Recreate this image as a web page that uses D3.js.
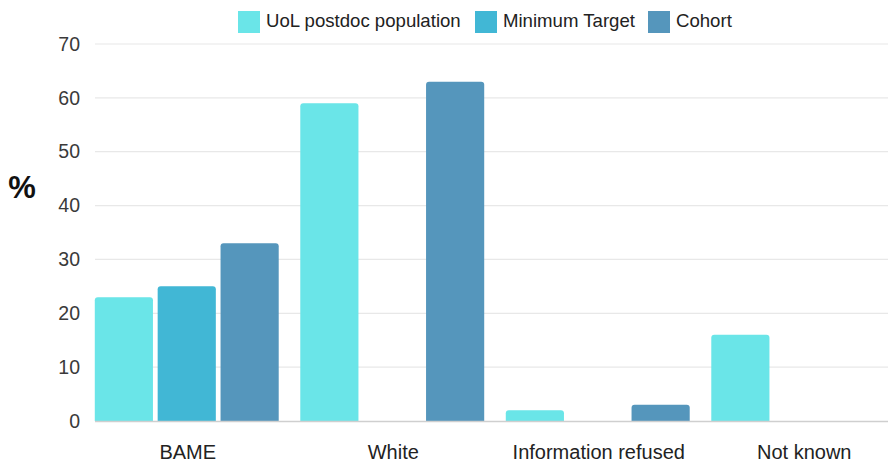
<!DOCTYPE html>
<html>
<head>
<meta charset="utf-8">
<script src="https://cdn.jsdelivr.net/npm/d3@7"></script>
<style>
  html, body { margin: 0; padding: 0; background: #fff; }
  svg { display: block; font-family: "Liberation Sans", Arial, sans-serif; }
</style>
</head>
<body>
<svg id="chart" width="888" height="464"></svg>
<script>
// Ethnicity breakdown (%)
const categories = ["BAME", "White", "Information refused", "Not known"];
const seriesNames = ["UoL postdoc population", "Minimum Target", "Cohort"];
const uolPostdoc = [23, 59, 2, 16];
const minimumTarget = [25, 0, 0, 0];
const cohort = [33, 63, 3, 0];
const yTicks = [0, 10, 20, 30, 40, 50, 60, 70];

const seriesValues = [uolPostdoc, minimumTarget, cohort];
const colors = ["#6ae5e8", "#41b7d5", "#5596bc"];

const svg = d3.select("#chart");

const x0 = d3.scaleBand()
  .domain(categories)
  .range([84, 906])
  .paddingInner(0.105)
  .paddingOuter(0.0525);

const x1 = d3.scaleBand()
  .domain(seriesNames)
  .range([0, x0.bandwidth()])
  .paddingInner(0.075)
  .paddingOuter(0);

const y = d3.scaleLinear().domain([0, 70]).range([421, 44]);

// gridlines
svg.append("g")
  .selectAll("line")
  .data(yTicks.filter(d => d > 0))
  .join("line")
  .attr("x1", 95).attr("x2", 888)
  .attr("y1", d => y(d)).attr("y2", d => y(d))
  .attr("stroke", "#e8e8e8")
  .attr("stroke-width", 1.2);

// y tick labels
const yAxis = d3.axisLeft(y).tickValues(yTicks).tickSize(0).tickPadding(0);
const yg = svg.append("g").attr("transform", "translate(80,0)").call(yAxis);
yg.select(".domain").remove();
yg.selectAll("text")
  .attr("font-size", 19.5)
  .attr("font-family", "Liberation Sans, Arial, sans-serif")
  .attr("fill", "#3a3a3a");

// axis title
svg.append("text")
  .attr("x", 22).attr("y", 190)
  .attr("text-anchor", "middle")
  .attr("dominant-baseline", "middle")
  .attr("font-size", 31)
  .attr("font-weight", "bold")
  .attr("fill", "#111")
  .text("%");

// bars
const rows = categories.map((c, i) => ({
  category: c,
  values: seriesNames.map((s, j) => ({ series: s, value: seriesValues[j][i], color: colors[j] }))
}));

const r = 3;
function topRounded(xp, yp, w, h) {
  if (h <= 0) return "";
  const rr = Math.min(r, h, w / 2);
  return `M${xp},${yp + h}V${yp + rr}Q${xp},${yp} ${xp + rr},${yp}H${xp + w - rr}Q${xp + w},${yp} ${xp + w},${yp + rr}V${yp + h}Z`;
}

svg.append("g")
  .selectAll("g")
  .data(rows)
  .join("g")
  .attr("transform", d => `translate(${x0(d.category)},0)`)
  .selectAll("path")
  .data(d => d.values.filter(v => v.value > 0))
  .join("path")
  .attr("d", v => topRounded(x1(v.series), y(v.value), x1.bandwidth(), y(0) - y(v.value)))
  .attr("fill", v => v.color);

// baseline
svg.append("line")
  .attr("x1", 95).attr("x2", 888)
  .attr("y1", y(0) + 0.5).attr("y2", y(0) + 0.5)
  .attr("stroke", "#cfcfcf")
  .attr("stroke-width", 1.3);

// x labels
const xAxis = d3.axisBottom(x0).tickSize(0).tickPadding(0);
const xg = svg.append("g").attr("transform", `translate(1,${y(0) + 24})`).call(xAxis);
xg.select(".domain").remove();
xg.selectAll("text")
  .attr("font-size", 20)
  .attr("font-family", "Liberation Sans, Arial, sans-serif")
  .attr("fill", "#222");

// legend
const legendItems = [
  { name: seriesNames[0], x: 238 },
  { name: seriesNames[1], x: 475 },
  { name: seriesNames[2], x: 648 }
];
const lg = svg.append("g");
legendItems.forEach((d, i) => {
  lg.append("rect")
    .attr("x", d.x).attr("y", 11)
    .attr("width", 22).attr("height", 22)
    .attr("fill", colors[i]);
  lg.append("text")
    .attr("x", d.x + 28).attr("y", 22)
    .attr("dominant-baseline", "middle")
    .attr("font-size", 18.6)
    .attr("fill", "#222")
    .text(d.name);
});
</script>
</body>
</html>
